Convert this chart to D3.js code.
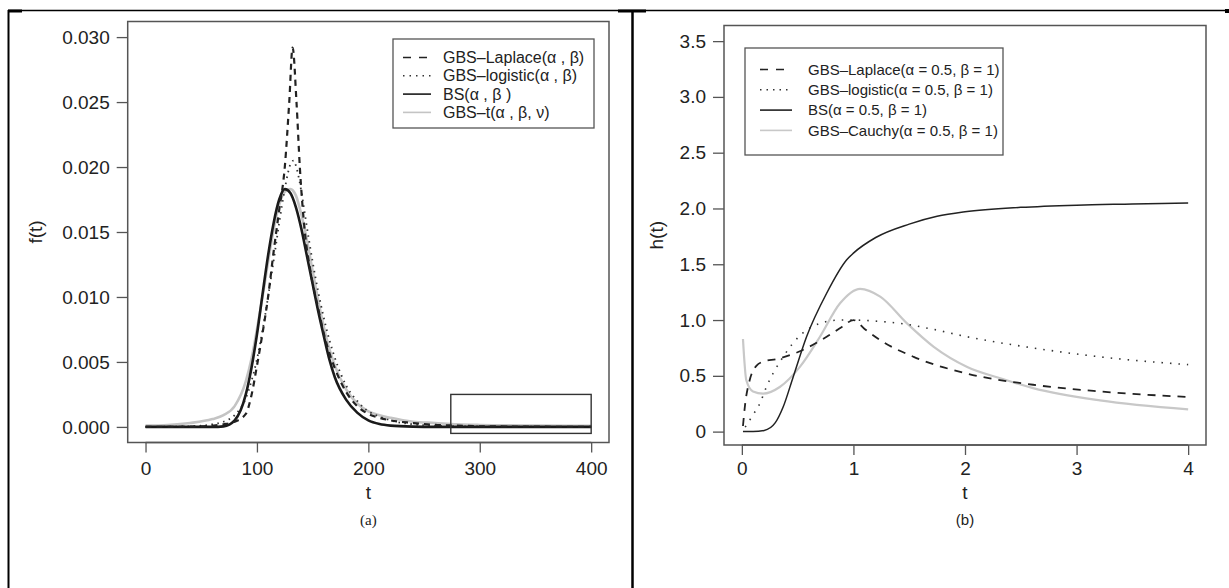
<!DOCTYPE html>
<html><head><meta charset="utf-8">
<script src="https://cdn.jsdelivr.net/npm/d3@7"></script>
<style>body{margin:0;background:#fff}svg{display:block}</style>
</head><body>
<svg id="c" width="1229" height="588"></svg>
<script>
// ---------- Panel (a): densities ----------
const tTicksA = [0, 100, 200, 300, 400];
const fTicksA = [0, 0.005, 0.010, 0.015, 0.020, 0.025, 0.030];
const fTickLabelsA = ["0.000", "0.005", "0.010", "0.015", "0.020", "0.025", "0.030"];

const tGrid = [0,20,40,60,70,80,90,95,100,105,110,115,120,125,130,135,140,145,150,155,160,165,170,180,190,200,210,220,240,260,280,300,350,400];
const fBS =   [0,0,0,0,0.00004,0.0005,0.0025,0.0045,0.0071,0.0102,0.0132,0.0157,0.0175,0.0183,0.0180,0.0169,0.0152,0.0131,0.0110,0.0089,0.0070,0.0052,0.0038,0.0021,0.0011,0.0005,0.00022,0.0001,0.00002,0,0,0,0,0];
const fT =    [0.0001,0.00015,0.0003,0.0006,0.0009,0.0016,0.0035,0.0052,0.0075,0.0100,0.0127,0.0152,0.0171,0.0181,0.0183,0.0178,0.0163,0.0143,0.0120,0.0097,0.0077,0.0060,0.0047,0.0029,0.0018,0.0012,0.0009,0.0007,0.0004,0.0003,0.0002,0.00015,0.0001,0.00008];

const tLap = [0,40,60,70,80,90,95,100,105,110,115,120,125,129,132,135.5,138.5,143,148,155,160,165,170,180,190,200,210,220,240,260,280,300,350,400];
const fLap = [0,0.00002,0.0001,0.0002,0.0004,0.0010,0.0024,0.0047,0.0072,0.0100,0.0135,0.0167,0.0200,0.0250,0.0292,0.0250,0.0200,0.0150,0.0120,0.0091,0.0072,0.0057,0.0045,0.0027,0.0016,0.0010,0.0007,0.0005,0.0003,0.00015,0.0001,0.00005,0.00002,0];

const tLog = [0,40,60,70,80,90,95,100,105,110,115,120,125,128,131,133,135,138,141,145,150,155,160,165,170,180,190,200,210,220,240,260,300,400];
const fLog = [0,0.00005,0.0002,0.0004,0.0009,0.0022,0.0035,0.0052,0.0074,0.0100,0.0128,0.0157,0.0183,0.0196,0.0204,0.0205,0.0201,0.0190,0.0175,0.0153,0.0127,0.0104,0.0084,0.0067,0.0053,0.0032,0.0020,0.0012,0.0008,0.0005,0.0002,0.0001,0.00003,0];

const legendA = ["GBS\u2013Laplace(\u03b1 , \u03b2)", "GBS\u2013logistic(\u03b1 , \u03b2)", "BS(\u03b1 , \u03b2 )", "GBS\u2013t(\u03b1 , \u03b2, \u03bd)"];

// ---------- Panel (b): hazards ----------
const tTicksB = [0, 1, 2, 3, 4];
const hTicksB = [0, 0.5, 1.0, 1.5, 2.0, 2.5, 3.0, 3.5];
const hTickLabelsB = ["0", "0.5", "1.0", "1.5", "2.0", "2.5", "3.0", "3.5"];

const tHBS = [0.01,0.1,0.2,0.3,0.37,0.46,0.58,0.76,0.94,1.0,1.2,1.5,1.75,2.0,2.5,3.0,3.5,4.0];
const hBS  = [0,0,0.01,0.08,0.22,0.49,0.85,1.24,1.54,1.6,1.74,1.86,1.93,1.97,2.01,2.03,2.04,2.05];
const tHLap = [0.01,0.03,0.07,0.13,0.2,0.31,0.52,0.76,0.9,1.0,1.1,1.24,1.54,2.02,2.61,3.21,4.0];
const hLap  = [0.05,0.25,0.46,0.59,0.63,0.65,0.72,0.85,0.94,1.0,0.92,0.82,0.67,0.52,0.42,0.36,0.31];
const tHLog = [0.03,0.1,0.16,0.22,0.37,0.52,0.7,0.88,1.0,1.2,1.42,1.7,2.02,2.61,3.21,4.0];
const hLog  = [0.04,0.15,0.25,0.4,0.67,0.86,0.97,1.0,1.0,0.99,0.97,0.92,0.85,0.75,0.67,0.6];
const tHCau = [0.01,0.04,0.1,0.19,0.34,0.52,0.7,0.88,1.06,1.24,1.48,1.72,2.02,2.31,2.61,3.21,4.0];
const hCau  = [0.83,0.46,0.36,0.34,0.40,0.58,0.85,1.15,1.28,1.21,0.97,0.76,0.58,0.48,0.39,0.28,0.20];

const legendB = ["GBS\u2013Laplace(\u03b1 = 0.5, \u03b2 = 1)", "GBS\u2013logistic(\u03b1 = 0.5, \u03b2 = 1)", "BS(\u03b1 = 0.5, \u03b2 = 1)", "GBS\u2013Cauchy(\u03b1 = 0.5, \u03b2 = 1)"];

// ---------- drawing ----------
const svg = d3.select("#c");
const FONT = "'Liberation Sans', Arial, Helvetica, sans-serif";
const TXT = "#222";
const BOX = "#555";

// outer frame (table borders)
const frame = svg.append("g").attr("stroke", "#000").attr("fill", "none");
frame.append("line").attr("x1", 8).attr("x2", 1229).attr("y1", 10.5).attr("y2", 10.5).attr("stroke-width", 1.5);
frame.append("line").attr("x1", 8).attr("x2", 22).attr("y1", 11).attr("y2", 11).attr("stroke-width", 3);
frame.append("line").attr("x1", 618).attr("x2", 646).attr("y1", 11).attr("y2", 11).attr("stroke-width", 3);
frame.append("line").attr("x1", 8.5).attr("x2", 8.5).attr("y1", 10).attr("y2", 588).attr("stroke-width", 2);
frame.append("line").attr("x1", 632.5).attr("x2", 632.5).attr("y1", 10).attr("y2", 588).attr("stroke-width", 2.5);
frame.append("rect").attr("x", 1225).attr("y", 9).attr("width", 4).attr("height", 4).attr("fill", "#000").attr("stroke", "none");

function panel(opt) {
  const g = svg.append("g");
  const x = d3.scaleLinear().domain(opt.xDom).range([opt.left, opt.right]);
  const y = d3.scaleLinear().domain(opt.yDom).range([opt.bottom, opt.top]);
  const clipId = "clip" + opt.id;
  svg.append("clipPath").attr("id", clipId).append("rect")
    .attr("x", opt.left).attr("y", opt.top).attr("width", opt.right - opt.left).attr("height", opt.bottom - opt.top);

  // axes
  const xa = g.append("g").attr("transform", `translate(0,${opt.bottom})`)
    .call(d3.axisBottom(x).tickValues(opt.xTicks).tickSize(10).tickSizeOuter(0).tickPadding(opt.xPad).tickFormat(d3.format("d")));
  const ya = g.append("g").attr("transform", `translate(${opt.left},0)`)
    .call(d3.axisLeft(y).tickValues(opt.yTicks).tickSize(11).tickSizeOuter(0).tickPadding(7)
      .tickFormat((d, i) => opt.yLabels[i]));
  [xa, ya].forEach(a => {
    a.select(".domain").remove();
    a.selectAll(".tick line").attr("stroke", BOX).attr("stroke-width", 1.3);
    a.selectAll(".tick text").attr("fill", TXT).style("font-family", FONT).style("font-size", "19px");
  });
  g.append("line").attr("x1", x(opt.xTicks[0])).attr("x2", x(opt.xTicks[opt.xTicks.length-1]))
    .attr("y1", opt.bottom).attr("y2", opt.bottom).attr("stroke", BOX).attr("stroke-width", 1.3);

  // curves
  const cg = g.append("g").attr("clip-path", `url(#${clipId})`);
  opt.series.forEach(s => {
    const pts = s.t.map((t, i) => [t, s.v[i]]);
    cg.append("path").datum(pts)
      .attr("d", d3.line().x(d => x(d[0])).y(d => y(d[1])).curve(d3.curveMonotoneX))
      .attr("fill", "none").attr("stroke", s.color).attr("stroke-width", s.width)
      .attr("stroke-dasharray", s.dash || null).attr("stroke-linecap", "butt");
  });

  // box
  g.append("rect").attr("x", opt.left).attr("y", opt.top).attr("width", opt.right - opt.left).attr("height", opt.bottom - opt.top)
    .attr("fill", "none").attr("stroke", BOX).attr("stroke-width", 1.5);

  // titles
  const cx = (x(opt.xTicks[0]) + x(opt.xTicks[opt.xTicks.length-1])) / 2;
  g.append("text").attr("x", cx).attr("y", opt.xTitleY)
    .attr("text-anchor", "middle").attr("fill", TXT).style("font-family", FONT).style("font-size", "19px").text("t");
  g.append("text").attr("transform", `translate(${opt.yTitleX},${(opt.top + opt.bottom) / 2}) rotate(-90)`)
    .attr("text-anchor", "middle").attr("fill", TXT).style("font-family", FONT).style("font-size", "19px").text(opt.yTitle);
  g.append("text").attr("x", cx).attr("y", opt.capY)
    .attr("text-anchor", "middle").attr("fill", TXT).style("font-family", opt.capFont).style("font-size", "15px").text(opt.caption);

  // legend
  const L = opt.legend;
  g.append("rect").attr("x", L.x).attr("y", L.y).attr("width", L.w).attr("height", L.h)
    .attr("fill", "#fff").attr("stroke", BOX).attr("stroke-width", 1.3);
  L.items.forEach((label, i) => {
    const s = opt.series.find(q => q.key === L.keys[i]);
    const yy = L.row0 + i * L.dy;
    g.append("line").attr("x1", L.lx1).attr("x2", L.lx2).attr("y1", yy).attr("y2", yy)
      .attr("stroke", s.color).attr("stroke-width", L.lw).attr("stroke-dasharray", s.legDash || s.dash || null);
    g.append("text").attr("x", L.tx).attr("y", yy).attr("dy", "0.35em").attr("fill", TXT)
      .style("font-family", FONT).style("font-size", L.fs + "px").text(label);
  });
  return {x, y};
}

// panel (a)
const pa = panel({
  id: "a", left: 127.7, right: 609, top: 21.5, bottom: 442.5,
  xDom: [-16, 416], yDom: [-0.0012, 0.0312],
  xTicks: tTicksA, yTicks: fTicksA, yLabels: fTickLabelsA, xPad: 9,
  xTitleY: 499, yTitleX: 42, yTitle: "f(t)", capY: 525, caption: "(a)", capFont: "'Liberation Serif', 'Times New Roman', serif",
  series: [
    {key: "t", t: tGrid, v: fT, color: "#c4c4c4", width: 2.6},
    {key: "log", t: tLog, v: fLog, color: "#333", width: 1.8, dash: "1.5,4.5", legDash: "1.5,5"},
    {key: "bs", t: tGrid, v: fBS, color: "#1a1a1a", width: 2.6},
    {key: "lap", t: tLap, v: fLap, color: "#222", width: 2.2, dash: "6,5", legDash: "8,8"}
  ],
  legend: {x: 393, y: 39, w: 201, h: 89, row0: 57.5, dy: 18.3, lx1: 403, lx2: 431, tx: 443, fs: 16, lw: 1.6,
    items: legendA, keys: ["lap", "log", "bs", "t"]}
});
svg.append("rect").attr("x", pa.x(274)).attr("y", pa.y(0.0025)).attr("width", pa.x(400) - pa.x(274))
  .attr("height", pa.y(-0.0005) - pa.y(0.0025)).attr("fill", "none").attr("stroke", "#333").attr("stroke-width", 1.4);

// panel (b)
panel({
  id: "b", left: 724, right: 1206, top: 25.5, bottom: 445,
  xDom: [-0.16, 4.16], yDom: [-0.12, 3.64],
  xTicks: tTicksB, yTicks: hTicksB, yLabels: hTickLabelsB, xPad: 7,
  xTitleY: 499, yTitleX: 663, yTitle: "h(t)", capY: 525, caption: "(b)", capFont: FONT,
  series: [
    {key: "cau", t: tHCau, v: hCau, color: "#c8c8c8", width: 2.2},
    {key: "log", t: tHLog, v: hLog, color: "#333", width: 1.6, dash: "1.5,7", legDash: "1.5,5"},
    {key: "lap", t: tHLap, v: hLap, color: "#222", width: 1.8, dash: "8,7", legDash: "8,8"},
    {key: "bs", t: tHBS, v: hBS, color: "#222", width: 1.5}
  ],
  legend: {x: 745, y: 48, w: 258, h: 107, row0: 69.5, dy: 20.3, lx1: 760, lx2: 792, tx: 808, fs: 15, lw: 1.6,
    items: legendB, keys: ["lap", "log", "bs", "cau"]}
});
</script>
</body></html>
